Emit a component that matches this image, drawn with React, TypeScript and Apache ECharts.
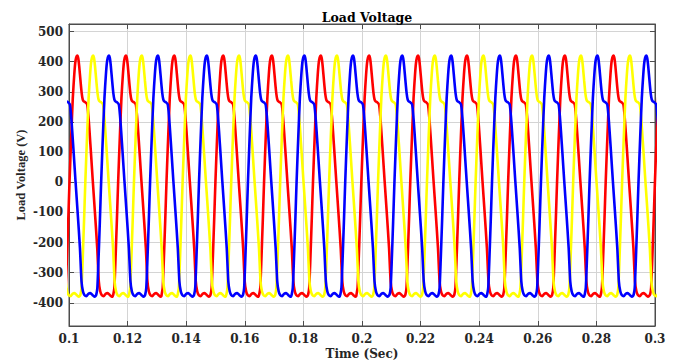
import React, { useEffect, useRef } from "react";
import * as echarts from "echarts";

// Peak times (s) of each phase
const redPeaks = [0.0861, 0.1028, 0.1194, 0.1359, 0.1526, 0.1692, 0.1859, 0.2024, 0.2191, 0.2358, 0.2525, 0.2692, 0.2858, 0.3026];
const yellowPeaks = [0.0915, 0.1082, 0.1248, 0.1414, 0.158, 0.1747, 0.1914, 0.2081, 0.2248, 0.2414, 0.258, 0.2747, 0.2914, 0.308];
const bluePeaks = [0.0969, 0.1136, 0.1303, 0.147, 0.1637, 0.1803, 0.1969, 0.2137, 0.2304, 0.247, 0.2637, 0.2803, 0.297, 0.3137];

// One cycle of the load-voltage waveform: time offset from the peak (ms) and value (V)
const shapeOffsetsMs = [-4.27, -3.92, -3.58, -3.07, -2.63, -2.05, -1.5, -1.02, -0.68, -0.34, 0, 0.34, 0.68, 1.13, 1.54, 1.88, 2.25, 2.83, 3.41, 3.82, 4.2, 4.78, 5.32, 6.08, 6.83, 7.37, 7.85, 8.36, 9.04, 9.73, 10.41, 11.09, 11.77, 12.12];
const shapeValues = [-372, -350, -270, -130, 0, 150, 280, 355, 395, 414, 420, 412, 385, 336, 295, 275, 268, 265, 258, 220, 170, 85, 4, -105, -218, -329, -362, -374, -378, -370, -368, -374, -380, -378];

const yTicks = [-400, -300, -200, -100, 0, 100, 200, 300, 400, 500];

function buildSeries(peaks: number[]) {
  const pts: number[][] = [];
  for (const p of peaks) {
    for (let i = 0; i < shapeOffsetsMs.length; i++) {
      pts.push([+(p + shapeOffsetsMs[i] / 1000).toFixed(6), shapeValues[i]]);
    }
  }
  return pts;
}

const hFont = "'DejaVu Serif', 'Liberation Serif', serif";
const vFont = "'Liberation Serif', 'Times New Roman', serif";
const textColor = "#262626";
const axisColor = "#4d4d4d";
const gridColor = "#d4d4d4";

export default function App() {
  const ref = useRef<HTMLDivElement>(null);
  useEffect(() => {
    if (!ref.current) return;
    const chart = echarts.init(ref.current, undefined, { renderer: "svg" });
    const xBase = {
      type: "value" as const,
      min: 0.1,
      max: 0.3,
      interval: 0.02,
    };
    const yBase = {
      type: "value" as const,
      min: -477,
      max: 525,
    };
    chart.setOption({
      animation: false,
      backgroundColor: "#ffffff",
      title: {
        text: "Load Voltage",
        left: 362,
        top: 6,
        textAlign: "center",
        textStyle: { fontFamily: hFont, fontWeight: "bold", fontSize: 12.5, color: "#000" },
      },
      grid: {
        left: 69,
        right: 23,
        top: 24,
        bottom: 35,
        show: true,
        borderColor: axisColor,
        borderWidth: 1,
        containLabel: false,
        outerBoundsMode: "none",
      },
      xAxis: [
        {
          ...xBase,
          position: "bottom",
          name: "Time (Sec)",
          nameLocation: "middle",
          nameGap: 21,
          nameMoveOverlap: false,
          nameTextStyle: { fontFamily: hFont, fontWeight: "bold", fontSize: 12, color: textColor, lineHeight: 13 },
          axisLine: { show: true, onZero: false, lineStyle: { color: axisColor, width: 1 } },
          axisTick: { show: true, inside: true, length: 5, lineStyle: { color: axisColor } },
          axisLabel: {
            fontFamily: hFont,
            fontWeight: "bold",
            fontSize: 12,
            lineHeight: 13,
            color: textColor,
            margin: 6,
            formatter: (v: number) => String(+v.toFixed(2)),
          },
          splitLine: { show: true, lineStyle: { color: gridColor, width: 1 } },
        },
        {
          ...xBase,
          position: "top",
          axisLine: { show: true, onZero: false, lineStyle: { color: axisColor, width: 1 } },
          axisTick: { show: true, inside: true, length: 5, lineStyle: { color: axisColor } },
          axisLabel: { show: false },
          splitLine: { show: false },
        },
      ],
      yAxis: [
        {
          ...yBase,
          position: "left",
          name: "Load Voltage (V)",
          nameLocation: "middle",
          nameGap: 42,
          nameRotate: 90,
          nameMoveOverlap: false,
          nameTextStyle: { fontFamily: vFont, fontWeight: "bold", fontSize: 12.5, color: textColor },
          axisLine: { show: true, onZero: false, lineStyle: { color: axisColor, width: 1 } },
          axisTick: { show: true, inside: true, length: 5, customValues: yTicks, lineStyle: { color: axisColor } },
          axisLabel: {
            fontFamily: hFont,
            fontWeight: "bold",
            fontSize: 12,
            color: textColor,
            margin: 6,
            customValues: yTicks,
          },
          splitLine: { show: true, lineStyle: { color: gridColor, width: 1 } },
        },
        {
          ...yBase,
          position: "right",
          axisLine: { show: true, onZero: false, lineStyle: { color: axisColor, width: 1 } },
          axisTick: { show: true, inside: true, length: 5, customValues: yTicks, lineStyle: { color: axisColor } },
          axisLabel: { show: false, customValues: yTicks },
          splitLine: { show: false },
        },
      ],
      series: [
        { name: "Va", type: "line", data: buildSeries(redPeaks), color: "#ff0000" },
        { name: "Vb", type: "line", data: buildSeries(yellowPeaks), color: "#ffff00" },
        { name: "Vc", type: "line", data: buildSeries(bluePeaks), color: "#0000ff" },
      ].map((s) => ({
        ...s,
        xAxisIndex: 0,
        yAxisIndex: 0,
        showSymbol: false,
        symbol: "none",
        smooth: 0.2,
        clip: true,
        lineStyle: { width: 2.6, color: s.color },
      })),
    });
    return () => chart.dispose();
  }, []);
  return <div ref={ref} style={{ width: 678, height: 361, position: "absolute", left: 0, top: 0 }} />;
}
